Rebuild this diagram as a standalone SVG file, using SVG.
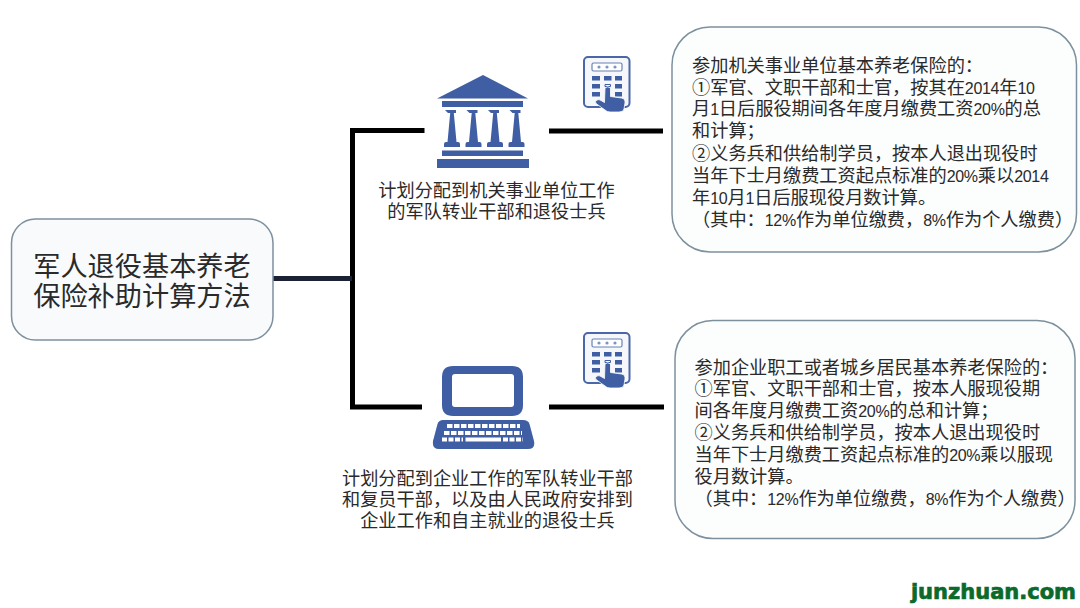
<svg xmlns="http://www.w3.org/2000/svg" width="1080" height="608" viewBox="0 0 1080 608">
<style>
text{font-family:"Liberation Sans","Noto Sans CJK SC",sans-serif;fill:#2a2a2a}
.box{fill:#fcfdfd;stroke:#7c909e;stroke-width:1.5}
.t,.l{font-size:18.2px}
.n{font-size:16px;letter-spacing:-.3px}
.c{fill:none;stroke:#000;stroke-width:5}
.i{fill:#3f5ea3}
.k{fill:none;stroke:#fff;stroke-width:4}
</style>
<defs>
<path id="column" d="M-5.500 110h11v3h-2.200l2.700 29h1.500q2 0 2 2v3h-16v-3q0-2 2-2h1.500l2.700-29h-2.200z"/>
<g id="keypad">
<rect x="1" y="2" width="45.500" height="50" rx="4" fill="#f5f7fb" stroke="#4a67a8" stroke-width="2"/>
<rect x="9" y="8" width="30" height="8" rx="1.500" fill="#fff" stroke="#6b82b5" stroke-width="1.200"/>
<g fill="#7f93c0"><circle cx="16" cy="12" r="1.600"/><circle cx="24" cy="12" r="1.600"/><circle cx="32" cy="12" r="1.600"/></g>
<g class="i">
<rect x="9" y="21" width="8" height="4.500"/><rect x="21" y="21" width="7.500" height="4.500"/><rect x="32" y="21" width="7" height="4.500"/>
<rect x="9" y="29" width="8" height="4.500"/><rect x="32" y="29" width="7" height="4.500"/>
<rect x="9" y="37" width="8" height="4.500"/><rect x="32" y="37" width="7" height="4.500"/>
<path d="M22 29.500h5.500v2h-5.500z" fill="none" stroke="#3f5ea3" stroke-width="1"/>
<path d="M22 33q2.700-2.500 5.500 0v8.500l11 1.500q4 .8 3.500 5l-1 6q-.5 3-5 3h-9q-3 0-5-2l-9-6.500q-1.500-2 1-3.500 2-1 4 .5l3.500 2z" stroke="#fff" stroke-width=".8"/>
</g>
</g>
</defs>
<rect width="1080" height="608" fill="#fff"/>
<g id="connectors">
<path class="c" d="M424.500 130.500H352.500V407H422M549 131H663M549 407H664"/>
<path class="c" style="stroke:#1a2233" d="M273 278.500H352"/>
</g>
<g id="root">
<rect class="box" x="11.500" y="219" width="261.500" height="121" rx="24" style="fill:#f8fafc"/>
<text x="142" y="276" text-anchor="middle" font-size="27.200">军人退役基本养老</text>
<text x="142" y="306" text-anchor="middle" font-size="27.200">保险补助计算方法</text>
</g>
<g id="gov-icon" class="i">
<path d="M437 98.500L483 75 528 98.500Z"/>
<rect x="442" y="101" width="81" height="6"/>
<use href="#column" x="450.500"/><use href="#column" x="472"/><use href="#column" x="493.500"/><use href="#column" x="515"/>
<rect x="442" y="150.500" width="81" height="5.500"/>
<rect x="437" y="159" width="92" height="9"/>
</g>
<use id="keypad-1" href="#keypad" x="583" y="55"/>
<g id="gov-label">
<text class="l" x="496.500" y="196.500" text-anchor="middle">计划分配到机关事业单位工作</text>
<text class="l" x="496.500" y="217.500" text-anchor="middle">的军队转业干部和退役士兵</text>
</g>
<g id="gov-box">
<rect class="box" x="672" y="27" width="404.500" height="225" rx="38"/>
<g class="t">
<text x="692" y="71.500">参加机关事业单位基本养老保险的：</text>
<text x="692" y="93.500">①军官、文职干部和士官，按其在<tspan class="n">2014</tspan>年<tspan class="n">10</tspan></text>
<text x="692" y="114.500">月<tspan class="n">1</tspan>日后服役期间各年度月缴费工资<tspan class="n">20%</tspan>的总</text>
<text x="692" y="136.500">和计算；</text>
<text x="692" y="159.500">②义务兵和供给制学员，按本人退出现役时</text>
<text x="692" y="181.500">当年下士月缴费工资起点标准的<tspan class="n">20%</tspan>乘以<tspan class="n">2014</tspan></text>
<text x="692" y="203.500">年<tspan class="n">10</tspan>月<tspan class="n">1</tspan>日后服现役月数计算。</text>
<text x="692" y="225.500">（其中：<tspan class="n">12%</tspan>作为单位缴费，<tspan class="n">8%</tspan>作为个人缴费）</text>
</g>
</g>
<g id="pc-icon" class="i">
<path fill-rule="evenodd" d="M453 366h59q11 0 11 11v28q0 11-11 11h-59q-11 0-11-11v-28q0-11 11-11zM455 374q-3 0-3 3v27q0 3 3 3h56q3 0 3-3v-27q0-3-3-3z"/>
<path d="M443 420h80q5 0 6.500 4l4.500 17q1.500 8-6 8h-89q-7 0-6-8l4.500-17q1.500-4 5.500-4z"/>
<g class="k">
<path d="M447 426H520" stroke-dasharray="5.500 1.500"/>
<path d="M444 433H522" stroke-dasharray="5.500 1.500"/>
<path d="M442 439.500H463" stroke-dasharray="5 1.500"/>
<path d="M465.500 439.500H501"/>
<path d="M503 439.500H523" stroke-dasharray="5 1.500"/>
</g>
</g>
<use id="keypad-2" href="#keypad" x="583" y="331"/>
<g id="pc-label">
<text class="l" x="487.500" y="484.500" text-anchor="middle">计划分配到企业工作的军队转业干部</text>
<text class="l" x="487.500" y="506" text-anchor="middle">和复员干部，以及由人民政府安排到</text>
<text class="l" x="487.500" y="527" text-anchor="middle">企业工作和自主就业的退役士兵</text>
</g>
<g id="pc-box">
<rect class="box" x="675" y="320.500" width="400" height="218" rx="38"/>
<g class="t">
<text x="694.500" y="373.500">参加企业职工或者城乡居民基本养老保险的：</text>
<text x="694.500" y="395">①军官、文职干部和士官，按本人服现役期</text>
<text x="694.500" y="417">间各年度月缴费工资<tspan class="n">20%</tspan>的总和计算；</text>
<text x="694.500" y="438.500">②义务兵和供给制学员，按本人退出现役时</text>
<text x="694.500" y="460.500">当年下士月缴费工资起点标准的<tspan class="n">20%</tspan>乘以服现</text>
<text x="694.500" y="483">役月数计算。</text>
<text x="694.500" y="504.500">（其中：<tspan class="n">12%</tspan>作为单位缴费，<tspan class="n">8%</tspan>作为个人缴费）</text>
</g>
</g>
<text id="watermark" x="1076" y="599" text-anchor="end" font-size="21" font-weight="bold" stroke="#0a6a2c" stroke-width=".7" style="font-family:'DejaVu Sans',sans-serif;fill:#0a6a2c">junzhuan.com</text>
</svg>
